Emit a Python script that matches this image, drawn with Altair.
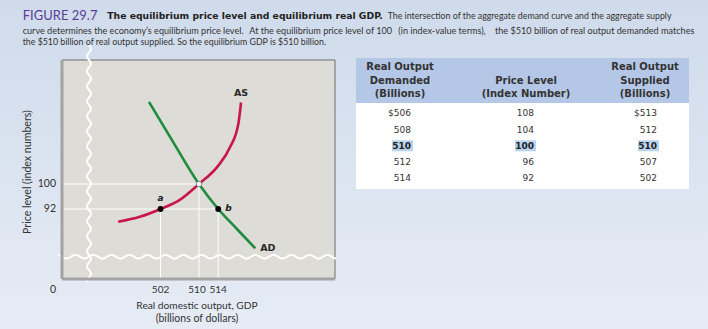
import altair as alt
import pandas as pd
import numpy as np

# ---------------- data ----------------
demand = [506, 508, 510, 512, 514]
price = [108, 104, 100, 96, 92]
supply = [513, 512, 510, 507, 502]

ad_x = [499.6, 504.6, 510, 514, 517.9, 521.7]
ad_y = [126.3, 113.5, 100, 92, 85.6, 79.4]
as_x = [493.2, 497.7, 502, 506, 510, 513.8, 516.5, 518.2, 518.75]
as_y = [87.9, 89.5, 92, 94.9, 100, 105.5, 111.9, 119.4, 126.1]

x_ticks = [502, 510, 514]
y_ticks = [92, 100]
pt_x = [502, 514]
pt_y = [92, 92]
pt_lab = ["a", "b"]
eq_x = [510]
eq_y = [100]

# ---------------- layout ----------------
XMIN, XMAX = 481.5, 538.3
YMIN, YMAX = 69.6, 139.7
W, H = 273, 219
FONT = "Lato"
BFONT = "DejaVu Sans"
TXT = "#333333"

def px2x(p):
    return XMIN + p / W * (XMAX - XMIN)

def px2y(p):
    return YMAX - p / H * (YMAX - YMIN)

xs = alt.Scale(domain=[XMIN, XMAX], nice=False, zero=False)
ys = alt.Scale(domain=[YMIN, YMAX], nice=False, zero=False)

one = pd.DataFrame({"k": [0]})

# background gradient
bg = alt.Chart(one).mark_rect(
    color=alt.Gradient(gradient="linear", x1=0, x2=0, y1=0, y2=1,
                       stops=[alt.GradientStop(color="#cfdbeb", offset=0),
                              alt.GradientStop(color="#e6ecf5", offset=1)])
).encode(x=alt.value(-62), x2=alt.value(646), y=alt.value(-60), y2=alt.value(269))

# ---------------- plot ----------------
panel = alt.Chart(one).mark_rect(fill="#dddcd6", stroke="#6e6e6e", strokeWidth=1).encode(
    x=alt.value(0), x2=alt.value(W), y=alt.value(0), y2=alt.value(H))

axis_df = pd.DataFrame({"x": [XMIN, XMIN], "y": [YMIN, YMIN], "x2": [XMIN, XMAX], "y2": [YMAX, YMIN]})
axes_lines = alt.Chart(axis_df).mark_rule(color="#a3a3a3", strokeWidth=3).encode(
    x=alt.X("x:Q", scale=xs, axis=None), x2="x2:Q",
    y=alt.Y("y:Q", scale=ys, axis=None), y2="y2:Q")

guide_df = pd.DataFrame({
    "x": [XMIN, XMIN, 502, 510, 514],
    "x2": [510, 514, 502, 510, 514],
    "y": [100, 92, YMIN, YMIN, YMIN],
    "y2": [100, 92, 92, 100, 92],
})
guides = alt.Chart(guide_df).mark_rule(color="white", strokeWidth=1).encode(
    x=alt.X("x:Q", scale=xs, axis=None), x2="x2:Q",
    y=alt.Y("y:Q", scale=ys, axis=None), y2="y2:Q")

curves_df = pd.concat([
    pd.DataFrame({"x": as_x, "y": as_y, "curve": "AS", "i": range(len(as_x))}),
    pd.DataFrame({"x": ad_x, "y": ad_y, "curve": "AD", "i": range(len(ad_x))}),
])
curves = alt.Chart(curves_df).mark_line(strokeWidth=2.6, interpolate="monotone").encode(
    x=alt.X("x:Q", scale=xs, axis=None),
    y=alt.Y("y:Q", scale=ys, axis=None),
    color=alt.Color("curve:N", scale=alt.Scale(domain=["AS", "AD"], range=["#c9164b", "#1f8b3f"]), legend=None),
    order="i:Q")

pts_df = pd.DataFrame({"x": pt_x, "y": pt_y, "lab": pt_lab})
pts = alt.Chart(pts_df).mark_circle(size=34, color="black", opacity=1).encode(
    x=alt.X("x:Q", scale=xs, axis=None), y=alt.Y("y:Q", scale=ys, axis=None))
lab_a = alt.Chart(pts_df[pts_df.lab == "a"]).mark_text(
    font=BFONT, fontSize=9, fontWeight="bold", fontStyle="italic", color="#222", dy=-11
).encode(x=alt.X("x:Q", scale=xs, axis=None), y=alt.Y("y:Q", scale=ys, axis=None), text="lab:N")
lab_b = alt.Chart(pts_df[pts_df.lab == "b"]).mark_text(
    font=BFONT, fontSize=9, fontWeight="bold", fontStyle="italic", color="#222", dx=7, dy=-1, align="left"
).encode(x=alt.X("x:Q", scale=xs, axis=None), y=alt.Y("y:Q", scale=ys, axis=None), text="lab:N")

eq_df = pd.DataFrame({"x": eq_x, "y": eq_y})
eqpt = alt.Chart(eq_df).mark_square(size=22, fill="white", stroke="#555", strokeWidth=0.6, opacity=1).encode(
    x=alt.X("x:Q", scale=xs, axis=None), y=alt.Y("y:Q", scale=ys, axis=None))

curve_lab_df = pd.DataFrame({"x": [as_x[-1], ad_x[-1]], "y": [as_y[-1], ad_y[-1]], "t": ["AS", "AD"]})
lab_as = alt.Chart(curve_lab_df[curve_lab_df.t == "AS"]).mark_text(
    font=BFONT, fontSize=9.5, fontWeight="bold", color="#2a2a2a", dy=-9
).encode(x=alt.X("x:Q", scale=xs, axis=None), y=alt.Y("y:Q", scale=ys, axis=None), text="t:N")
lab_ad = alt.Chart(curve_lab_df[curve_lab_df.t == "AD"]).mark_text(
    font=BFONT, fontSize=9.5, fontWeight="bold", color="#2a2a2a", dx=5, align="left"
).encode(x=alt.X("x:Q", scale=xs, axis=None), y=alt.Y("y:Q", scale=ys, axis=None), text="t:N")

# break marks (decoration)
vy = np.arange(-15, 223, 1.0)
vwave = pd.DataFrame({"x": [px2x(27 + 2.0 * np.sin(2 * np.pi * p / 15)) for p in vy],
                      "y": [px2y(p) for p in vy], "i": range(len(vy))})
hx = np.arange(-4, 275, 1.0)
hwave = pd.DataFrame({"x": [px2x(p) for p in hx],
                      "y": [px2y(196.7 + 1.8 * np.sin(2 * np.pi * p / 18)) for p in hx], "i": range(len(hx))})
waves = alt.layer(*[
    alt.Chart(d).mark_line(color="white", strokeWidth=2).encode(
        x=alt.X("x:Q", scale=xs, axis=None), y=alt.Y("y:Q", scale=ys, axis=None), order="i:Q")
    for d in (hwave, vwave)])

ytick_df = pd.DataFrame({"x": [XMIN] * len(y_ticks), "y": y_ticks, "t": [str(v) for v in y_ticks]})
yticks = alt.Chart(ytick_df).mark_text(font=FONT, fontSize=10.5, color=TXT, align="right", dx=-6).encode(
    x=alt.X("x:Q", scale=xs, axis=None), y=alt.Y("y:Q", scale=ys, axis=None), text="t:N")
xtick_df = pd.DataFrame({"x": x_ticks, "y": [YMIN] * len(x_ticks), "t": [str(v) for v in x_ticks]})
xtick_shift = {502: 0, 510: -2, 514: 0}
xticks = alt.layer(*[
    alt.Chart(xtick_df[xtick_df.x == v]).mark_text(font=FONT, fontSize=10, color=TXT, dy=11, dx=xtick_shift[v]).encode(
        x=alt.X("x:Q", scale=xs, axis=None), y=alt.Y("y:Q", scale=ys, axis=None), text="t:N")
    for v in x_ticks])
zero_df = pd.DataFrame({"x": [XMIN], "y": [YMIN], "t": ["0"]})
zero = alt.Chart(zero_df).mark_text(font=FONT, fontSize=10.5, color=TXT, dx=-9, dy=11).encode(
    x=alt.X("x:Q", scale=xs, axis=None), y=alt.Y("y:Q", scale=ys, axis=None), text="t:N")

xtitle1 = alt.Chart(one).mark_text(text="Real domestic output, GDP", font=FONT, fontSize=10.2, color=TXT,
                                   x=135, y=246)
xtitle2 = alt.Chart(one).mark_text(text="(billions of dollars)", font=FONT, fontSize=10.5, color=TXT,
                                   x=135, y=259)
ytitle = alt.Chart(one).mark_text(text="Price level (index numbers)", font=FONT, fontSize=10.6, color=TXT,
                                  angle=270, x=-34, y=112)

plot = alt.layer(panel, guides, curves, waves, axes_lines, eqpt, pts, lab_a, lab_b, lab_as, lab_ad,
                 yticks, xticks, zero, xtitle1, xtitle2, ytitle)

# ---------------- table ----------------
TX0, TX1 = 294, 627
hdr_bg = alt.Chart(one).mark_rect(fill="#b4c7e6").encode(
    x=alt.value(TX0), x2=alt.value(TX1), y=alt.value(-2), y2=alt.value(43))
body_bg = alt.Chart(one).mark_rect(fill="white").encode(
    x=alt.value(TX0), x2=alt.value(TX1), y=alt.value(43), y2=alt.value(129))

col_x = [0, 1, 2]
tcx = alt.Scale(domain=[0, 2], range=[349, 595])
tcy = alt.Scale(domain=[0, 4], range=[53.3, 118.3])

cells = []
for r in range(len(demand)):
    d = f"${demand[r]}" if r == 0 else str(demand[r])
    s = f"${supply[r]}" if r == 0 else str(supply[r])
    for c, t in zip(col_x, [d, str(price[r]), s]):
        cells.append({"col": c, "row": r, "t": t, "hl": price[r] == 100})
cells = pd.DataFrame(cells)

hl = alt.Chart(cells[cells.hl]).mark_rect(width=21, height=11, xOffset=-8.5, fill="#b9d3ef").encode(
    x=alt.X("col:Q", scale=tcx, axis=None), y=alt.Y("row:Q", scale=tcy, axis=None))
cell_txt = alt.Chart(cells[~cells.hl]).mark_text(font=BFONT, fontSize=9, color=TXT, align="right").encode(
    x=alt.X("col:Q", scale=tcx, axis=None), y=alt.Y("row:Q", scale=tcy, axis=None), text="t:N")
cell_bold = alt.Chart(cells[cells.hl]).mark_text(font=BFONT, fontSize=9, fontWeight="bold", color="#222",
                                                 align="right").encode(
    x=alt.X("col:Q", scale=tcx, axis=None), y=alt.Y("row:Q", scale=tcy, axis=None), text="t:N")

hdr = []
for x, lines in [(338, ["Real Output", "Demanded", "(Billions)"]),
                 (464, ["Price Level", "(Index Number)"]),
                 (583, ["Real Output", "Supplied", "(Billions)"])]:
    ys_ = [7, 21, 34] if len(lines) == 3 else [21, 34]
    for yy, ln in zip(ys_, lines):
        hdr.append(alt.Chart(one).mark_text(text=ln, font=BFONT, fontSize=10, fontWeight="bold",
                                            color="#333", x=x, y=yy))

table = alt.layer(hdr_bg, body_bg, hl, cell_txt, cell_bold, *hdr)

# ---------------- title ----------------
def tline(text, x, y, size=8.8, font=FONT, weight="normal", color="#333"):
    return alt.Chart(one).mark_text(text=text, font=font, fontSize=size, fontWeight=weight, color=color,
                                    align="left", baseline="middle", x=x - 62, y=y - 60)

title = alt.layer(
    tline("FIGURE 29.7", 22.7, 15.7, size=13, color="#5b3c97"),
    tline("The equilibrium price level and equilibrium real GDP.", 107.3, 15.9, size=9.25, font=BFONT,
          weight="bold", color="#222"),
    tline("The intersection of the aggregate demand curve and the aggregate supply", 387.7, 16),
    tline("curve determines the economy\u2019s equilibrium price level.", 22.7, 30.5, size=9.1),
    tline("At the equilibrium price level of 100", 249.3, 30.5, size=9.1),
    tline("(in index-value terms),", 398.3, 30.5, size=9.1),
    tline("the $510 billion of real output demanded matches", 495, 30.5, size=9.1),
    tline("the $510 billion of real output supplied. So the equilibrium GDP is $510 billion.", 22.7, 41.7),
)

chart = alt.layer(bg, plot, table, title).resolve_scale(x="independent", y="independent").properties(
    width=W, height=H,
    padding={"left": 62, "top": 60, "right": 373, "bottom": 50},
    autosize=alt.AutoSizeParams(type="none"),
    background="#dbe3ef",
).configure_view(stroke=None)

chart.save("out.html", embed_options={"renderer": "svg", "actions": False})
